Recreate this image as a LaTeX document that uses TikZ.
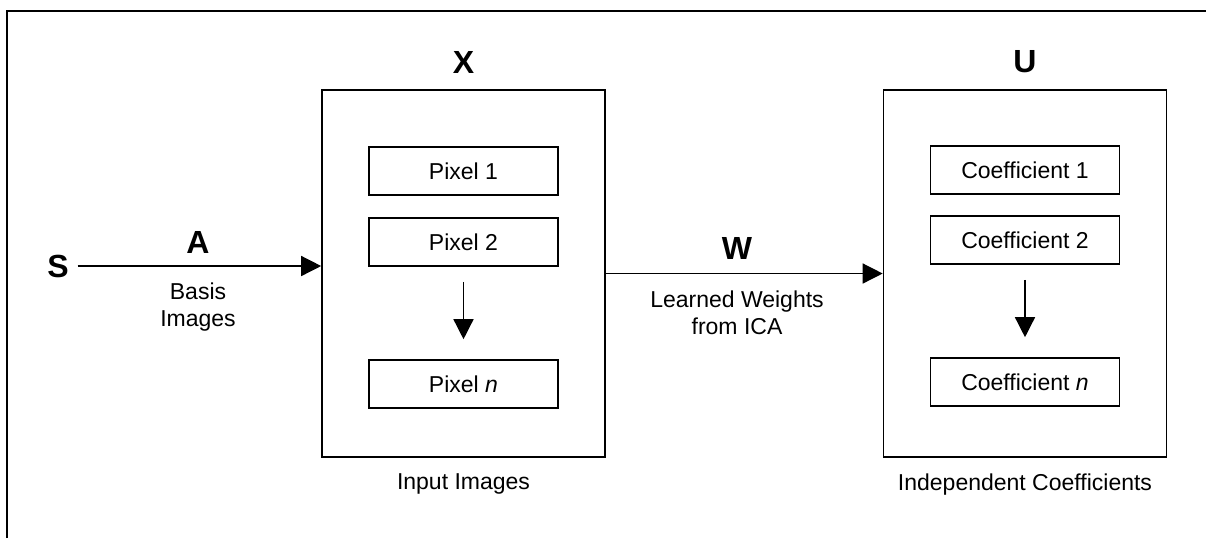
\documentclass[tikz,border=0pt]{standalone}
\usepackage{fontspec}
\setmainfont{Liberation Sans}
\usetikzlibrary{positioning,arrows.meta}

\tikzset{
  bigbox/.style={draw, line width=0.8pt, minimum width=141.5pt, minimum height=183.5pt, inner sep=0pt},
  entry/.style={draw, line width=0.8pt, minimum width=94.5pt, minimum height=24pt, inner sep=0pt,
    font=\fontsize{11.5}{13}\selectfont},
  varlabel/.style={font=\fontsize{16}{19}\selectfont\bfseries},
  caption/.style={font=\fontsize{11.5}{13.5}\selectfont, align=center},
  flow/.style={-{Triangle[length=10pt,width=10pt]}, line width=0.7pt},
}

\begin{document}
\begin{tikzpicture}[x=0.5pt, y=-0.5pt]
\useasboundingbox (0,0) rectangle (1206,538);
% frame (top and left edges only)
\draw [line width=1.4pt] (7,538) -- (7,11) -- (1206,11);

% source
\node [varlabel] (S) at (58,266) {S};

% input images
\node [bigbox] (xbox) at (463.5,273.5) {};
\node [varlabel] (xlab) at (463.5,62) {X};
\node [entry] (p1) at (463.5,171) {Pixel 1};
\node [entry] (p2) at (463.5,242) {Pixel 2};
\node [entry] (pn) at (463.5,384) {Pixel \textit{n}};
\node [caption] (xcap) at (463.5,484) {Input Images};
\draw [flow, shorten <=7.5pt, shorten >=10pt] (p2) -- (pn);

% independent coefficients
\node [bigbox] (ubox) at (1025,273.5) {};
\node [varlabel] (ulab) at (1025,62) {U};
\node [entry] (c1) at (1025,170) {Coefficient 1};
\node [entry] (c2) at (1025,240) {Coefficient 2};
\node [entry] (cn) at (1025,382) {Coefficient \textit{n}};
\node [caption] (ucap) at (1025,485) {Independent Coefficients};
\draw [flow, shorten <=7.5pt, shorten >=10pt] (c2) -- (cn);

% mixing and unmixing
\draw [flow] (S.east) ++(1pt,0) coordinate (s0) -- (s0 -| xbox.west);
\node [varlabel] (alab) at (198,242) {A};
\node [caption] (acap) at (198,307) {Basis\\Images};

\draw [flow] (xbox.east) -- (ubox.west);
\node [varlabel] (wlab) at (737,248) {W};
\node [caption] (wcap) at (737,313) {Learned Weights\\from ICA};
\end{tikzpicture}
\end{document}
